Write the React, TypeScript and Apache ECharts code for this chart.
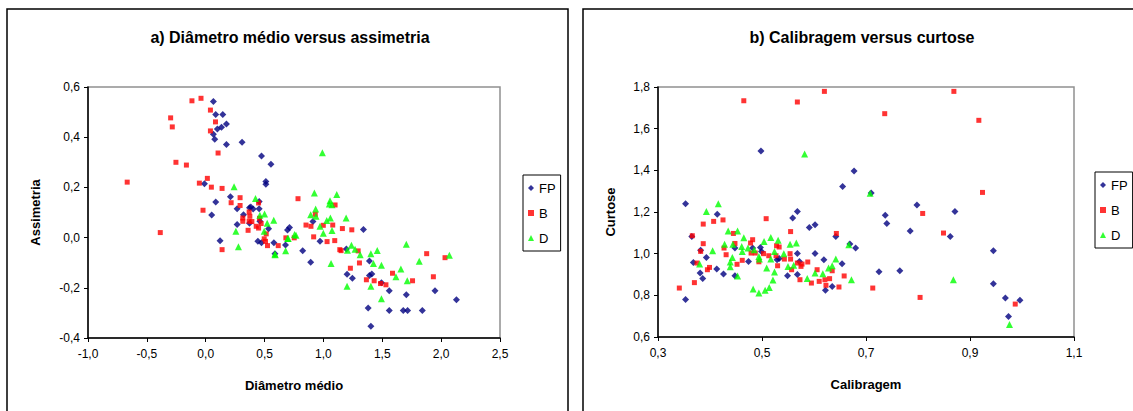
import React, { useEffect, useRef } from "react";
import * as echarts from "echarts";

// ---- Chart a) Diâmetro médio (x) versus assimetria (y)
const fpA: number[][] = [
  [0.065, 0.542], [0.085, 0.49], [0.145, 0.49], [0.176, 0.453], [0.134, 0.44], [0.099, 0.433],
  [0.065, 0.412], [0.077, 0.392], [0.176, 0.371], [0.309, 0.38], [0.474, 0.325], [0.554, 0.292],
  [0.511, 0.224], [0.511, 0.213], [-0.011, 0.215], [0.21, 0.163], [0.085, 0.142], [0.051, 0.09],
  [0.267, 0.115], [0.321, 0.091], [0.372, 0.119], [0.403, 0.114], [0.454, 0.115], [0.454, 0.144],
  [0.267, 0.052], [0.372, 0.057], [0.46, 0.065], [0.534, 0.035], [0.122, -0.013], [0.443, -0.015],
  [0.474, -0.021], [0.579, -0.021], [0.588, -0.064], [0.695, 0.03], [0.712, 0.04], [0.678, -0.029],
  [0.911, 0.064], [0.824, -0.052], [0.971, -0.015], [0.892, -0.098], [1.34, 0.032], [1.195, -0.045],
  [1.391, -0.093], [1.391, -0.151], [1.411, -0.145], [1.201, -0.146], [1.246, -0.162], [1.493, -0.18],
  [1.559, -0.212], [1.704, -0.228], [1.948, -0.212], [2.13, -0.248], [1.38, -0.28], [1.559, -0.29],
  [1.678, -0.29], [1.715, -0.29], [1.84, -0.29], [1.403, -0.353], [0.383, 0.122],
];
const bA: number[][] = [
  [-0.667, 0.221], [-0.117, 0.545], [-0.04, 0.555], [0.04, 0.508], [0.083, 0.461], [0.04, 0.425],
  [-0.298, 0.477], [-0.284, 0.441], [0.105, 0.337], [-0.253, 0.3], [-0.164, 0.289], [0.014, 0.236],
  [-0.054, 0.217], [0.048, 0.201], [0.139, 0.196], [-0.023, 0.109], [-0.386, 0.02], [0.292, 0.159],
  [0.292, 0.128], [0.216, 0.139], [0.315, 0.078], [0.315, 0.065], [0.369, 0.102], [0.375, 0.085],
  [0.369, 0.065], [0.449, 0.138], [0.36, 0.029], [0.392, 0.064], [0.429, 0.045], [0.449, 0.038],
  [0.471, 0.056], [0.497, -0.005], [0.508, -0.015], [0.525, -0.032], [0.616, -0.032], [0.514, 0.015],
  [0.681, -0.001], [0.139, -0.048], [0.457, 0.077], [0.784, 0.155], [1.099, 0.13], [0.931, 0.093],
  [0.852, 0.05], [0.894, 0.045], [1.079, 0.05], [1.161, 0.036], [1.241, 0.031], [0.999, 0.049],
  [0.917, 0.003], [1.031, -0.016], [1.096, -0.012], [0.752, -0.001], [1.139, -0.048], [1.15, -0.052],
  [1.295, -0.053], [1.306, -0.101], [1.229, -0.122], [1.365, -0.168], [1.431, -0.172], [1.485, -0.183],
  [1.531, -0.188], [1.587, -0.142], [1.757, -0.172], [1.877, -0.064], [1.934, -0.156], [2.033, -0.08],
];
const dA: number[][] = [
  [0.241, 0.203], [0.423, 0.156], [0.46, 0.089], [0.5, 0.094], [0.522, 0.057], [0.578, 0.069],
  [0.256, 0.025], [0.278, -0.036], [0.497, 0.025], [0.59, -0.068], [0.696, -0.004], [0.679, -0.052],
  [0.991, 0.338], [0.923, 0.178], [1.113, 0.172], [1.056, 0.147], [1.05, 0.134], [1.073, 0.131],
  [0.934, 0.114], [0.892, 0.091], [0.937, 0.085], [1.059, 0.078], [1.193, 0.078], [1.028, 0.068],
  [0.971, 0.045], [0.999, 0.017], [0.767, 0.009], [0.755, 0.012], [0.701, -0.004], [1.073, 0.028],
  [1.204, -0.05], [1.238, -0.03], [1.269, -0.046], [1.312, -0.068], [1.403, -0.064], [1.457, -0.051],
  [1.704, -0.026], [2.07, -0.07], [0.588, -0.065], [1.065, -0.103], [1.425, -0.103], [1.493, -0.11],
  [1.658, -0.125], [1.616, -0.156], [1.712, -0.172], [1.201, -0.194], [1.403, -0.194], [1.493, -0.244],
  [1.814, -0.094],
];

// ---- Chart b) Calibragem (x) versus curtose (y)
const fpB: number[][] = [
  [0.498, 1.493], [0.677, 1.397], [0.655, 1.322], [0.71, 1.291], [0.353, 1.24], [0.414, 1.189],
  [0.568, 1.203], [0.559, 1.171], [0.591, 1.126], [0.602, 1.139], [0.365, 1.083], [0.642, 1.083],
  [0.669, 1.046], [0.68, 1.027], [0.798, 1.234], [0.737, 1.184], [0.74, 1.145], [0.871, 1.202],
  [0.785, 1.109], [0.862, 1.083], [0.945, 1.014], [0.725, 0.913], [0.765, 0.918], [0.945, 0.856],
  [0.968, 0.787], [0.996, 0.776], [0.974, 0.699], [0.382, 1.016], [0.368, 0.958], [0.393, 0.982],
  [0.381, 0.907], [0.386, 0.881], [0.413, 0.926], [0.426, 0.902], [0.353, 0.78], [0.448, 1.027],
  [0.448, 0.894], [0.474, 0.963], [0.482, 1.027], [0.497, 1.03], [0.499, 1.011], [0.529, 0.971],
  [0.533, 0.977], [0.568, 1.001], [0.572, 0.963], [0.549, 0.894], [0.568, 0.9], [0.602, 1.001],
  [0.619, 0.971], [0.654, 0.952], [0.622, 0.824], [0.635, 0.843],
];
const bB: number[][] = [
  [0.465, 1.734], [0.568, 1.728], [0.62, 1.779], [0.736, 1.672], [0.869, 1.779], [0.917, 1.64],
  [0.924, 1.294], [0.809, 1.193], [0.849, 1.099], [0.713, 0.835], [0.804, 0.79], [0.987, 0.758],
  [0.508, 1.168], [0.387, 1.142], [0.407, 1.155], [0.425, 1.162], [0.555, 1.106], [0.643, 1.097],
  [0.366, 1.086], [0.387, 1.048], [0.445, 1.097], [0.482, 1.067], [0.382, 1.011], [0.341, 0.835],
  [0.37, 0.861], [0.375, 0.955], [0.399, 0.934], [0.395, 0.923], [0.431, 0.995], [0.448, 1.049],
  [0.427, 1.027], [0.452, 0.949], [0.462, 0.968], [0.478, 1.051], [0.479, 1.003], [0.487, 1.003],
  [0.494, 0.961], [0.503, 1.0], [0.513, 0.99], [0.528, 1.038], [0.533, 1.032], [0.53, 0.942],
  [0.527, 0.99], [0.543, 0.974], [0.554, 1.0], [0.555, 0.974], [0.557, 0.923], [0.568, 0.955],
  [0.575, 0.939], [0.577, 0.95], [0.588, 0.96], [0.573, 0.875], [0.595, 0.859], [0.606, 0.923],
  [0.61, 0.867], [0.621, 0.875], [0.63, 0.88], [0.623, 0.848], [0.635, 0.918], [0.648, 0.84],
  [0.658, 0.893],
];
const dB: number[][] = [
  [0.582, 1.478], [0.416, 1.24], [0.393, 1.202], [0.708, 1.29], [0.435, 1.109], [0.453, 1.109],
  [0.465, 1.077], [0.428, 1.045], [0.444, 1.045], [0.461, 1.035], [0.504, 1.059], [0.517, 1.078],
  [0.531, 1.064], [0.554, 1.045], [0.566, 1.051], [0.667, 1.043], [0.405, 1.014], [0.473, 1.027],
  [0.38, 0.95], [0.439, 0.96], [0.439, 0.937], [0.443, 0.982], [0.453, 0.893], [0.462, 1.011],
  [0.485, 1.019], [0.494, 0.987], [0.495, 0.974], [0.509, 0.931], [0.517, 0.974], [0.524, 0.912],
  [0.521, 0.874], [0.542, 1.0], [0.524, 1.011], [0.55, 0.939], [0.561, 0.944], [0.483, 0.83],
  [0.494, 0.811], [0.506, 0.824], [0.514, 0.838], [0.587, 0.881], [0.602, 0.907], [0.617, 0.904],
  [0.628, 0.931], [0.635, 0.942], [0.642, 0.974], [0.672, 0.875], [0.868, 0.875], [0.976, 0.66],
];

const seriesNames = ["FP", "B", "D"];
const titles = ["a) Diâmetro médio versus assimetria", "b) Calibragem versus curtose"];
const xNames = ["Diâmetro médio", "Calibragem"];
const yNames = ["Assimetria", "Curtose"];

const FONT = "'Liberation Sans', Arial, sans-serif";

const fmt = (v: number) => {
  const r = Math.round(v * 10) / 10;
  return (r === 0 ? 0 : r).toFixed(1).replace(".", ",");
};

function axisBase(labelMargin: number) {
  return {
    type: "value" as const,
    splitLine: { show: false },
    axisLine: { show: true, onZero: false, lineStyle: { color: "#000", width: 1.5 } },
    axisTick: { show: true, inside: false, length: 4, lineStyle: { color: "#000", width: 1 } },
    axisLabel: { formatter: fmt, fontSize: 12, color: "#000", fontFamily: FONT, margin: labelMargin },
    nameLocation: "middle" as const,
    nameTextStyle: { fontWeight: "bold" as const, fontSize: 13, color: "#000", fontFamily: FONT },
  };
}

function legendAt(left: number, top: number) {
  return {
    orient: "vertical" as const,
    left,
    top,
    padding: [6, 5, 6, 5],
    itemGap: 11,
    itemWidth: 6,
    itemHeight: 6,
    borderColor: "#000",
    borderWidth: 1,
    selectedMode: false,
    textStyle: { fontSize: 13, color: "#000", fontFamily: FONT, lineHeight: 14 },
    data: [
      { name: seriesNames[0], icon: "diamond" },
      { name: seriesNames[1], icon: "rect" },
      { name: seriesNames[2], icon: "triangle" },
    ],
  };
}

function scatter(name: string, data: number[][], idx: number) {
  const styles: Record<string, any> = {
    FP: { symbol: "diamond", symbolSize: 7, color: "#000080" },
    B: { symbol: "rect", symbolSize: 5, color: "#FF0000" },
    D: { symbol: "triangle", symbolSize: 7, color: "#00FF00" },
  };
  const s = styles[name];
  return {
    type: "scatter" as const,
    name,
    xAxisIndex: idx,
    yAxisIndex: idx,
    data,
    symbol: s.symbol,
    symbolSize: s.symbolSize,
    itemStyle: { color: s.color },
    emphasis: { disabled: true },
  };
}

export default function App() {
  const ref = useRef<HTMLDivElement>(null);
  useEffect(() => {
    document.body.style.margin = "0";
    if (!ref.current) return;
    const chart = echarts.init(ref.current, undefined, { renderer: "svg" });
    chart.setOption({
      animation: false,
      backgroundColor: "#fff",
      textStyle: { fontFamily: FONT },
      graphic: [
        {
          type: "rect",
          shape: { x: 7, y: 9, width: 561, height: 420 },
          style: { fill: "none", stroke: "#000", lineWidth: 1.5 },
          z: -1,
        },
        {
          type: "rect",
          shape: { x: 583, y: 9, width: 560, height: 420 },
          style: { fill: "none", stroke: "#000", lineWidth: 1.5 },
          z: -1,
        },
        {
          type: "text",
          x: 290,
          y: 37,
          style: {
            text: titles[0],
            fontSize: 16,
            fontWeight: "bold",
            fontFamily: FONT,
            fill: "#000",
            align: "center",
            verticalAlign: "middle",
          },
        },
        {
          type: "text",
          x: 862,
          y: 37,
          style: {
            text: titles[1],
            fontSize: 16,
            fontWeight: "bold",
            fontFamily: FONT,
            fill: "#000",
            align: "center",
            verticalAlign: "middle",
          },
        },
      ],
      legend: [legendAt(523, 175), legendAt(1095, 172)],
      grid: [
        { left: 88, top: 87, width: 412, height: 251, show: true, borderColor: "#909090", borderWidth: 1.5, backgroundColor: "#fff" },
        { left: 658, top: 87, width: 416, height: 250, show: true, borderColor: "#909090", borderWidth: 1.5, backgroundColor: "#fff" },
      ],
      xAxis: [
        { ...axisBase(10), gridIndex: 0, min: -1, max: 2.5, interval: 0.5, name: xNames[0], nameGap: 41 },
        { ...axisBase(10), gridIndex: 1, min: 0.3, max: 1.1, interval: 0.2, name: xNames[1], nameGap: 41 },
      ],
      yAxis: [
        { ...axisBase(8), gridIndex: 0, min: -0.4, max: 0.6, interval: 0.2, name: yNames[0], nameGap: 46 },
        { ...axisBase(8), gridIndex: 1, min: 0.6, max: 1.8, interval: 0.2, name: yNames[1], nameGap: 41 },
      ],
      series: [
        scatter("FP", fpA, 0),
        scatter("B", bA, 0),
        scatter("D", dA, 0),
        scatter("FP", fpB, 1),
        scatter("B", bB, 1),
        scatter("D", dB, 1),
      ],
    });
    return () => chart.dispose();
  }, []);
  return (
    <div
      ref={ref}
      style={{ position: "absolute", left: 0, top: 0, width: 1133, height: 411 }}
    />
  );
}
